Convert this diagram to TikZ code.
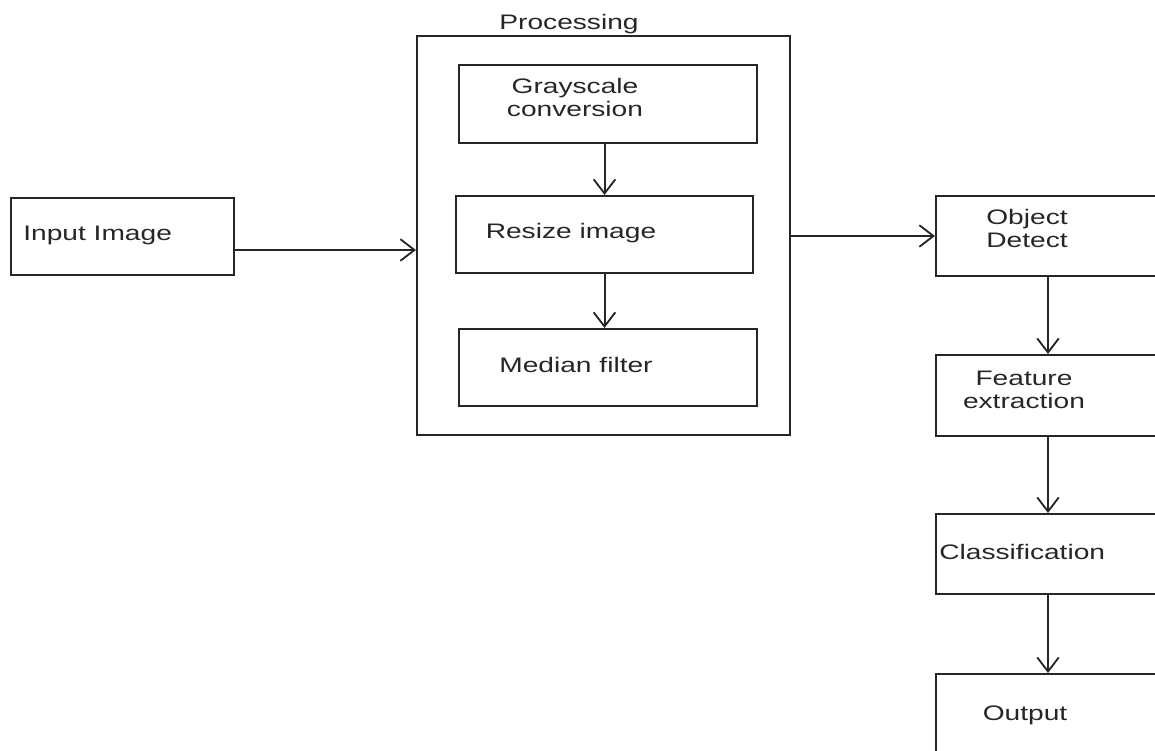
\documentclass[tikz,border=0pt]{standalone}
\usepackage{fontspec}
\setmainfont[FakeStretch=1.34]{Liberation Sans}
\usetikzlibrary{arrows.meta,fit}
\definecolor{ink}{gray}{0.15}
\tikzset{
  box/.style={draw=ink, line width=1.2pt, inner sep=0pt, rectangle},
  lbl/.style={inner sep=0pt, text=ink, font=\fontsize{12.6pt}{13.8pt}\selectfont},
  arr/.style={draw=ink, line width=1.2pt, -{Straight Barb[length=8.5pt,width=13pt,line width=1.1pt]}}
}
\begin{document}
\begin{tikzpicture}[x=0.6pt,y=-0.6pt]
\useasboundingbox (0,0) rectangle (1155,751);
\clip (0,0) rectangle (1155,751);
% boxes
\node[box, fit={(11,198) (234,275)}] (in) {};
\node[box, fit={(417,36) (790,435)}] (proc) {};
\node[box, fit={(459,65) (757,143)}] (gs) {};
\node[box, fit={(456,196) (753,273)}] (rs) {};
\node[box, fit={(459,329) (757,406)}] (md) {};
\node[box, fit={(936,196) (1160,276)}] (od) {};
\node[box, fit={(936,355) (1160,436)}] (fe) {};
\node[box, fit={(936,514) (1160,594)}] (cl) {};
\node[box, fit={(936,674) (1160,770)}] (out) {};
% labels
\node[lbl, anchor=base west] (tin) at (23,240) {Input Image};
\node[lbl, anchor=base] (tproc) at (569,30) {Processing};
\node[lbl, anchor=base, align=center] (tgs) at (575,117) {Grayscale\\conversion};
\node[lbl, anchor=base] (trs) at (571,238) {Resize image};
\node[lbl, anchor=base] (tmd) at (576,372) {Median filter};
\node[lbl, anchor=base west, align=left] (tod) at (986,247) {Object\\Detect};
\node[lbl, anchor=base, align=center] (tfe) at (1024,408) {Feature\\extraction};
\node[lbl, anchor=base west] (tcl) at (939,559) {Classification};
\node[lbl, anchor=base] (tout) at (1025,720) {Output};
% connectors
\coordinate (inrow) at (0,250);
\draw[arr] (in.east |- inrow) -- (proc.west |- inrow);
\draw[arr] (gs.south -| rs.north) -- (rs.north);
\draw[arr] (rs.south) -- (rs.south |- md.north);
\draw[arr] (proc.east |- od.west) -- (od.west);
\draw[arr] (od.south) -- (fe.north);
\draw[arr] (fe.south) -- (cl.north);
\draw[arr] (cl.south) -- (out.north);
\end{tikzpicture}
\end{document}
